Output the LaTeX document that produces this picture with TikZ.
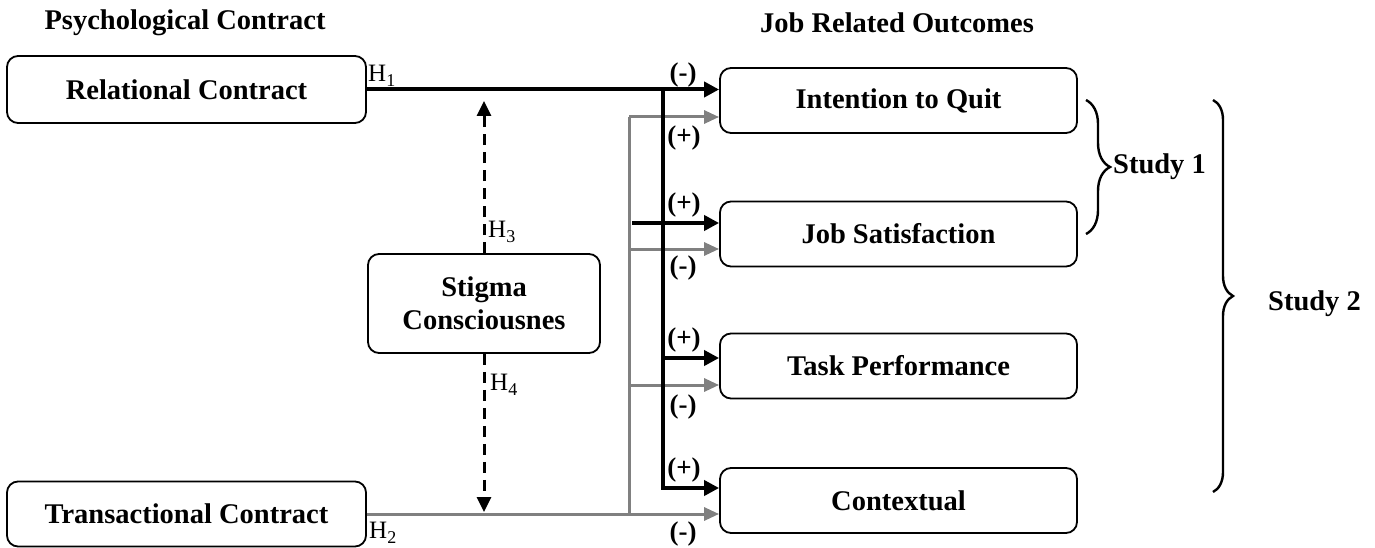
\documentclass[tikz,border=0pt]{standalone}
\usepackage{fontspec}
\setmainfont{Liberation Serif}
\usetikzlibrary{arrows.meta,decorations.pathreplacing}
\begin{document}
\begin{tikzpicture}[x=1pt,y=-1pt,
  cbox/.style={draw, rounded corners=11pt, line width=1.8pt, align=center,
    font=\bfseries\fontsize{28.5}{33}\selectfont, inner sep=0pt},
  blk/.style={line width=4pt, draw=black},
  gry/.style={line width=3pt, draw=gray},
  blkarr/.style={blk, -{Triangle[length=15pt,width=15pt]}},
  gryarr/.style={gry, -{Triangle[length=15pt,width=13pt]}, color=gray},
  dsh/.style={line width=3pt, dash pattern=on 11pt off 7pt, -{Triangle[length=15pt,width=14pt]}},
  sgn/.style={font=\bfseries\fontsize{27}{27}\selectfont, inner sep=0pt},
  hyp/.style={font=\fontsize{25}{25}\selectfont, inner sep=0pt, anchor=west},
  ttl/.style={font=\bfseries\fontsize{28.5}{28}\selectfont, inner sep=0pt},
  brc/.style={line width=2.4pt, decorate}]
\useasboundingbox (0,0) rectangle (1375,548);

% titles
\node[ttl] (t1) at (185,23) {Psychological Contract};
\node[ttl] (t2) at (897,23) {Job Related Outcomes};

% boxes
\node[cbox, minimum width=359pt, minimum height=67pt] (rel) at (186.5,89.5) {Relational Contract};
\node[cbox, minimum width=359pt, minimum height=65pt] (trans) at (186.5,514) {Transactional Contract};
\node[cbox, minimum width=232pt, minimum height=99pt] (stig) at (484,303.5) {Stigma\\Consciousnes};
\node[cbox, minimum width=357pt, minimum height=65pt] (iq) at (898.5,100.5) {Intention to Quit};
\node[cbox, minimum width=357pt, minimum height=65pt] (js) at (898.5,234) {Job Satisfaction};
\node[cbox, minimum width=357pt, minimum height=65pt] (tp) at (898.5,366) {Task Performance};
\node[cbox, minimum width=357pt, minimum height=65pt] (cx) at (898.5,500.5) {Contextual};

% coordinates
\coordinate (g1) at (629,117);
\coordinate (g2) at (629,249);
\coordinate (g3) at (629,385);
\coordinate (g4) at (629,514);
\coordinate (b1) at (663,89.5);
\coordinate (b2) at (632,223);
\coordinate (b3) at (663,358);
\coordinate (b4) at (663,488);
\coordinate (d1) at (484,101);
\coordinate (d2) at (484,512);

% gray paths
\draw[gry] (g1) -- (g4);
\draw[gryarr] (g1) -- (g1 -| iq.west);
\draw[gryarr] (g2) -- (g2 -| js.west);
\draw[gryarr] (g3) -- (g3 -| tp.west);
\draw[gryarr] (trans.east) -- (trans.east -| cx.west);

% black paths
\draw[blkarr] (rel.east) -- (rel.east -| iq.west);
\draw[blkarr] (b1) -- (b4) -- (b4 -| cx.west);
\draw[blkarr] (b2) -- (b2 -| js.west);
\draw[blkarr] (b3) -- (b3 -| tp.west);

% dashed moderation
\draw[dsh] (stig.north) -- (d1);
\draw[dsh] (stig.south) -- (d2);

% hypothesis labels
\node[hyp] (h1) at (368,76) {H\raisebox{-0.22em}{\fontsize{18}{18}\selectfont 1}};
\node[hyp] (h2) at (369,533) {H\raisebox{-0.22em}{\fontsize{18}{18}\selectfont 2}};
\node[hyp] (h3) at (488,232) {H\raisebox{-0.22em}{\fontsize{18}{18}\selectfont 3}};
\node[hyp] (h4) at (490,385) {H\raisebox{-0.22em}{\fontsize{18}{18}\selectfont 4}};

% sign labels
\node[sgn] (s1) at (683,75) {(-)};
\node[sgn] (s2) at (684,138) {(+)};
\node[sgn] (s3) at (684,205) {(+)};
\node[sgn] (s4) at (683,268) {(-)};
\node[sgn] (s5) at (684,340) {(+)};
\node[sgn] (s6) at (683,407) {(-)};
\node[sgn] (s7) at (684,470) {(+)};
\node[sgn] (s8) at (683,534) {(-)};

% braces
\draw[brc, decoration={brace, amplitude=24pt}] (1086,100) -- (1086,234)
  node[midway, anchor=west, xshift=26pt, ttl] (st1) {Study 1};
\draw[brc, decoration={brace, amplitude=20pt}] (1213,100) -- (1213,492)
  node[midway, anchor=west, xshift=54pt, yshift=-8pt, ttl] (st2) {Study 2};
\end{tikzpicture}
\end{document}
